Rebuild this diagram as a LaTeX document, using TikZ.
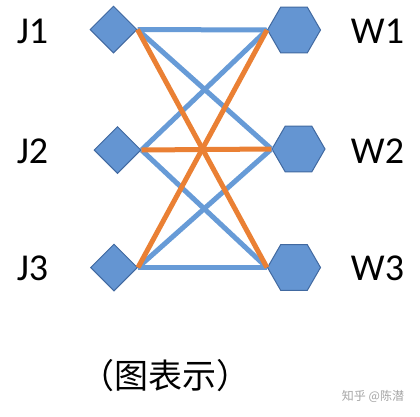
\documentclass[tikz,border=0pt]{standalone}
\usepackage{fontspec}
\setmainfont{Carlito}
\newfontfamily\cjk{Noto Sans CJK SC}
\usetikzlibrary{shapes.geometric}
\definecolor{shapefill}{RGB}{100,149,210}
\definecolor{shapeedge}{RGB}{65,105,160}
\definecolor{blueline}{RGB}{103,155,215}
\definecolor{orangeline}{RGB}{234,128,52}
\tikzset{
  jnode/.style={diamond, aspect=1, minimum width=47pt, minimum height=47pt, inner sep=0pt, fill=shapefill, draw=shapeedge, line width=1pt},
  wnode/.style={regular polygon, regular polygon sides=6, minimum size=53pt, inner sep=0pt, fill=shapefill, draw=shapeedge, line width=1pt},
  lbl/.style={anchor=base, font=\fontsize{38}{40}\selectfont, inner sep=0pt},
  bl/.style={draw=blueline, line width=5pt},
  ol/.style={draw=orangeline, line width=5pt},
}
\begin{document}
\begin{tikzpicture}[x=1pt,y=1pt]
\useasboundingbox (0,0) rectangle (420,-416);
\fill[white] (0,0) rectangle (420,-416);
\node[jnode] (J1) at (113.5,-29.5) {};
\node[jnode] (J2) at (117.5,-150) {};
\node[jnode] (J3) at (114,-267.5) {};
\node[wnode] (W1) at (294,-30) {};
\node[wnode] (W2) at (298.5,-149) {};
\node[wnode] (W3) at (294,-267.5) {};
\draw[bl] (J1.east) -- (W1.west);
\draw[bl] (J1.east) -- (W2.west);
\draw[bl] (J2.east) -- (W1.west);
\draw[bl] (J2.east) -- (W3.west);
\draw[bl] (J3.east) -- (W2.west);
\draw[bl] (J3.east) -- (W3.west);
\draw[ol] (J1.east) -- (W3.west);
\draw[ol] (J2.east) -- (W2.west);
\draw[ol] (J3.east) -- (W1.west);
\node[lbl] (LJ1) at (32.5,-43) {J1};
\node[lbl] (LJ2) at (32.5,-163) {J2};
\node[lbl] (LJ3) at (32.5,-280) {J3};
\node[lbl] (LW1) at (377.5,-43) {W1};
\node[lbl] (LW2) at (377.5,-163) {W2};
\node[lbl] (LW3) at (377.5,-280) {W3};
\node[font=\cjk\fontsize{34}{36}\selectfont, inner sep=0pt] (cap) at (165,-376) {（图表示）};
\node[font=\cjk\fontsize{12}{14}\selectfont, text=black!35, inner sep=0pt] (wm) at (373,-396) {知乎 @陈潜};
\end{tikzpicture}
\end{document}
